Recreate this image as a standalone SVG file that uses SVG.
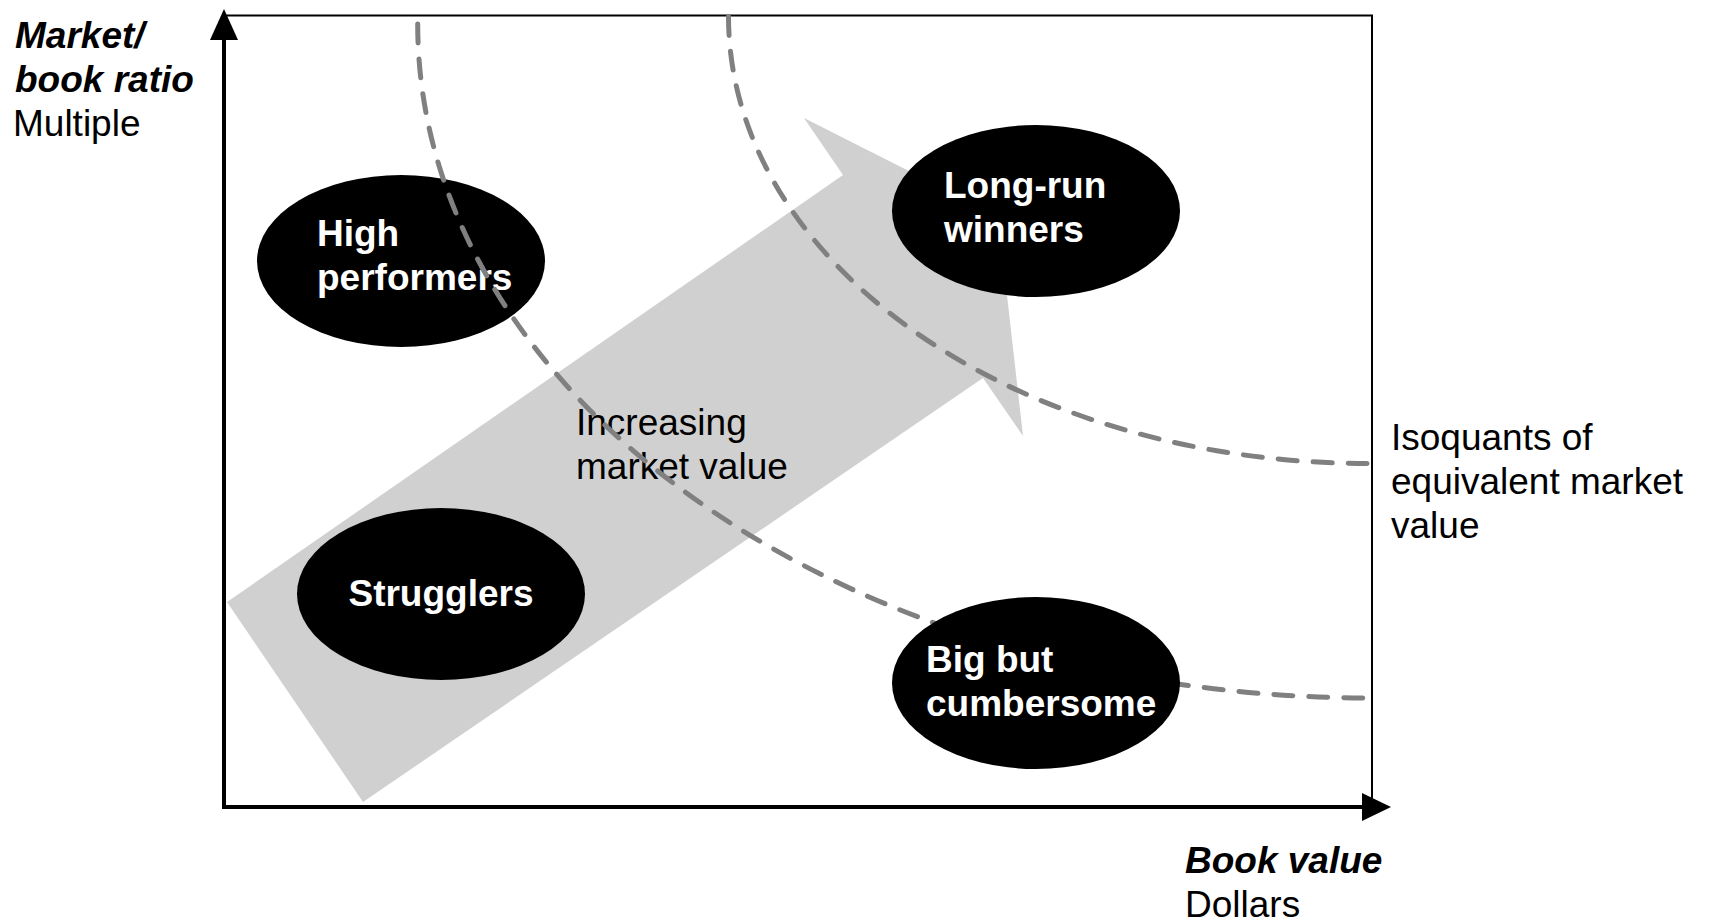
<svg xmlns="http://www.w3.org/2000/svg" width="1710" height="924" viewBox="0 0 1710 924">
<style>
.lbl{font-family:"Liberation Sans",Arial,sans-serif;font-size:37px;fill:#000}
.bi{font-weight:bold;font-style:italic}
.node ellipse{fill:#000}
.node text{font-family:"Liberation Sans",Arial,sans-serif;font-size:37px;font-weight:bold;fill:#fff}
.iso{fill:none;stroke:#808080;stroke-width:5;stroke-linecap:round;stroke-dasharray:19 16}
</style>
<rect width="1710" height="924" fill="#fff"/>
<g id="axes">
<path d="M224 15.5 H1372 V807" fill="none" stroke="#000" stroke-width="2"/>
<line x1="224" y1="807" x2="224" y2="36" stroke="#000" stroke-width="4"/>
<line x1="222" y1="807" x2="1366" y2="807" stroke="#000" stroke-width="4"/>
<polygon points="224,9 210,40 238,40" fill="#000"/>
<polygon points="1391,807 1362,793 1362,821" fill="#000"/>
</g>
<g id="axis-labels">
<text class="lbl bi" x="15" y="48">Market/</text>
<text class="lbl bi" x="15" y="92">book ratio</text>
<text class="lbl" x="13" y="136">Multiple</text>
<text class="lbl bi" x="1185" y="873">Book value</text>
<text class="lbl" x="1185" y="917">Dollars</text>
</g>
<g id="trend-arrow">
<polygon points="227,602 843,175 804,118 998,216 1023,436 983,378 363,802" fill="#d0d0d0"/>
<text class="lbl" x="576" y="435">Increasing</text>
<text class="lbl" x="576" y="479">market value</text>
</g>
<g id="high-performers" class="node">
<ellipse cx="401" cy="261" rx="144" ry="86"/>
<text x="317" y="246">High</text>
<text x="317" y="290">performers</text>
</g>
<g id="connectors">
<path class="iso" d="M417.7 24 A954 674 0 0 0 1372 698"/>
<path class="iso" d="M728.5 16.4 A640 447 0 0 0 1368.7 463.5"/>
</g>
<g id="isoquant-label">
<text class="lbl" x="1391" y="450">Isoquants of</text>
<text class="lbl" x="1391" y="494">equivalent market</text>
<text class="lbl" x="1391" y="538">value</text>
</g>
<g id="long-run-winners" class="node">
<ellipse cx="1036" cy="211" rx="144" ry="86"/>
<text x="944" y="198">Long-run</text>
<text x="944" y="242">winners</text>
</g>
<g id="strugglers" class="node">
<ellipse cx="441" cy="594" rx="144" ry="86"/>
<text x="441" y="606" text-anchor="middle">Strugglers</text>
</g>
<g id="big-but-cumbersome" class="node">
<ellipse cx="1036" cy="683" rx="144" ry="86"/>
<text x="926" y="672">Big but</text>
<text x="926" y="716">cumbersome</text>
</g>
</svg>
